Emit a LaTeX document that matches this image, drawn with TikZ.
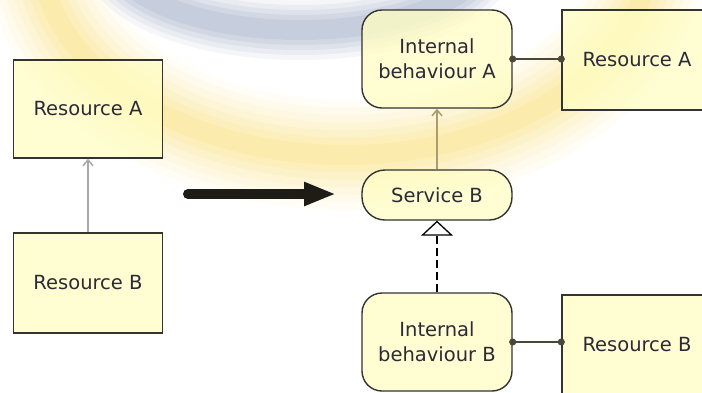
\documentclass[tikz,border=0pt]{standalone}
\usepackage{fontspec}
\setmainfont{DejaVu Sans}
\usetikzlibrary{arrows.meta}
\definecolor{boxfill}{HTML}{FFFDC4}
\definecolor{boxline}{HTML}{333333}
\definecolor{txt}{HTML}{2A2A38}
\definecolor{grayarrow}{HTML}{A8A8A8}
\definecolor{olive}{HTML}{A89C70}
\definecolor{assoc}{HTML}{4A4638}
\definecolor{bigarrow}{HTML}{1E1C16}
\definecolor{swyellow}{HTML}{F8DC6A}
\definecolor{swblue}{HTML}{9AA6C2}
\tikzset{
  basebox/.style={draw=boxline, line width=1.4pt, fill=boxfill, fill opacity=0.78, text opacity=1,
    text=txt, font=\fontsize{19.5}{25}\selectfont, align=center, inner sep=2pt},
  resbox/.style={basebox, rectangle, minimum width=149pt, minimum height=98pt},
  behbox/.style={basebox, rectangle, rounded corners=20pt, minimum width=150pt, minimum height=98pt},
  svcbox/.style={basebox, rectangle, rounded corners=23pt, minimum width=150pt, minimum height=50pt},
  flowline/.style={line width=1.5pt},
  assocline/.style={draw=assoc, line width=1.5pt, {Circle[length=7pt]}-{Circle[length=7pt]},
    shorten <=-3.5pt, shorten >=-3.5pt},
}
\begin{document}
\begin{tikzpicture}[x=1pt,y=-1pt]
\useasboundingbox (0,0) rectangle (702,392);
\clip (0,0) rectangle (702,392);
% background swoosh
\begin{scope}
  \clip (0,0) rectangle (702,209);
  \foreach \w/\o in {110/0.06,95/0.07,80/0.08,65/0.10,50/0.12,35/0.14,20/0.16}
    \draw[swyellow, line width=\w pt, opacity=\o] (345,-50) ellipse [x radius=305pt, y radius=205pt];
  \foreach \w/\o in {60/0.10,50/0.12,40/0.15,30/0.18,20/0.2}
    \draw[swblue, line width=\w pt, opacity=\o] (300,-50) ellipse [x radius=190pt, y radius=80pt];
\end{scope}
% left side
\node[resbox] (lA) at (88,109) {Resource A};
\node[resbox, minimum height=100pt] (lB) at (88,283) {Resource B};
\draw[grayarrow, flowline, -{Straight Barb[length=6pt,width=10pt]}] (lB.north) -- (lA.south);
% big arrow
\coordinate (bs) at (188,194);
\coordinate (be) at (336,194);
\draw[bigarrow, line width=10pt, line cap=round, -{Triangle[length=32pt,width=22pt]}] (bs) -- (be);
% right side
\node[behbox] (iA) at (437,59) {Internal\\behaviour A};
\node[resbox, minimum width=150pt, minimum height=100pt] (rA) at (637,60) {Resource A};
\node[svcbox] (sB) at (437,195) {Service B};
\node[behbox] (iB) at (437,342) {Internal\\behaviour B};
\node[resbox, minimum width=150pt, minimum height=100pt] (rB) at (637,345) {\raisebox{2pt}{Resource B}};
\draw[olive, flowline, -{Straight Barb[length=6pt,width=10pt]}] (sB.north) -- (iA.south);
\draw[black, line width=2.2pt, dash pattern=on 8pt off 4pt,
  -{Triangle[fill=white, length=15pt, width=32pt, line width=1.3pt]}] (iB.north) -- (sB.south);
\draw[assocline] (iA.east) -- (rA.west |- iA.east);
\draw[assocline] (iB.east) -- (rB.west |- iB.east);
\end{tikzpicture}
\end{document}
